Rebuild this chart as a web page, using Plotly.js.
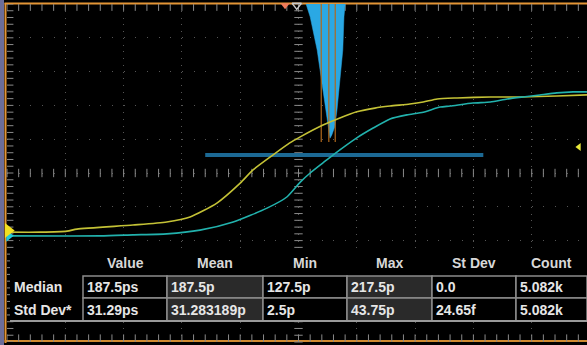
<!DOCTYPE html>
<html>
<head>
<meta charset="utf-8">
<script src="https://cdn.plot.ly/plotly-3.0.1.min.js"></script>
<style>
  html, body { margin: 0; padding: 0; background: #000; }
  #chart { width: 587px; height: 345px; }
</style>
</head>
<body>
<div id="chart"></div>
<script>
// ---- Data (screen divisions: x 0..10, y 0..10) ----
const yellowX = [0, 0.57, 1.03, 1.2, 2.16, 2.74, 3.14, 3.6, 4.0, 4.22, 4.56, 4.85, 5.03, 5.42, 5.71, 6.0, 6.31, 6.57, 6.91, 7.14, 7.38, 7.72, 8.29, 8.8, 9.43, 9.95];
const yellowY = [3.25, 3.25, 3.28, 3.34, 3.46, 3.55, 3.70, 4.11, 4.70, 5.09, 5.53, 5.89, 6.07, 6.42, 6.63, 6.81, 6.92, 6.98, 7.04, 7.10, 7.19, 7.22, 7.25, 7.25, 7.28, 7.31];

const tealX = [0, 1.6, 2.16, 2.74, 3.31, 3.88, 4.46, 4.80, 5.03, 5.20, 5.42, 5.59, 6.0, 6.28, 6.57, 6.86, 7.14, 7.43, 7.60, 7.99, 8.29, 8.58, 8.85, 9.14, 9.43, 9.71, 9.95];
const tealY = [3.14, 3.14, 3.17, 3.20, 3.31, 3.55, 3.96, 4.29, 4.73, 5.0, 5.30, 5.53, 6.04, 6.33, 6.60, 6.72, 6.80, 6.95, 6.98, 7.07, 7.10, 7.19, 7.25, 7.31, 7.37, 7.40, 7.40];

// histogram outline (hanging from top of screen)
const histX = [5.13, 5.20, 5.32, 5.40, 5.47, 5.51, 5.54, 5.57, 5.62, 5.66, 5.71, 5.76, 5.78, 5.80];
const histY = [10.0, 9.62, 8.64, 7.66, 6.86, 6.36, 6.03, 6.12, 6.36, 6.86, 7.66, 8.64, 9.62, 10.0];

// cursor lines
const cursorX = [5.39, 5.52, 5.63];
const cursorTop = 10.0;
const cursorBottom = 5.92;

// measurement zone bar
const zoneX = [3.40, 8.17];
const zoneY = [5.53, 5.53];

// markers
const ch1RefX = 0.02, ch1RefY = 3.30;
const ch2RefX = 0.03, ch2RefY = 3.14;
const trigLevelY = 5.77, trigLevelX = 9.81;
const trigPosX = 4.77, centerMarkX = 4.97;

// table
const colHeaders = ['Value', 'Mean', 'Min', 'Max', 'St Dev', 'Count'];
const rowLabels = ['Median', 'Std Dev*'];
const medianVals = ['187.5ps', '187.5p', '127.5p', '217.5p', '0.0', '5.082k'];
const stdDevVals = ['31.29ps', '31.283189p', '2.5p', '43.75p', '24.65f', '5.082k'];

// ---- Layout geometry (pixels) ----
const W = 587, H = 345;
const L = 7, T = 4, B = 3;
const plotW = W - L, plotH = H - T - B;
const pxPerDivX = 58.3, pxPerDivY = plotH / 10;
const px2paperX = px => (px - L) / plotW;
const py2paperY = py => (H - B - py) / plotH;

const colEdges = [83, 167, 263, 347, 432, 516, 587];
const rowEdges = [276, 298, 321];
const greyCols = [1, 3];

const shapes = [];
const annotations = [];

// left strip + orange frame
shapes.push({type: 'rect', xref: 'paper', yref: 'paper', x0: px2paperX(0), x1: px2paperX(4), y0: py2paperY(345), y1: py2paperY(0), fillcolor: '#6b6d9a', line: {width: 0}, layer: 'below'});
shapes.push({type: 'line', xref: 'paper', yref: 'paper', x0: px2paperX(5.5), x1: px2paperX(5.5), y0: py2paperY(343), y1: py2paperY(3), line: {color: '#e39536', width: 2}, layer: 'below'});
shapes.push({type: 'line', xref: 'paper', yref: 'paper', x0: px2paperX(4.5), x1: px2paperX(587), y0: py2paperY(3.5), y1: py2paperY(3.5), line: {color: '#e39536', width: 2}, layer: 'below'});
shapes.push({type: 'line', xref: 'paper', yref: 'paper', x0: px2paperX(4.5), x1: px2paperX(587), y0: py2paperY(341), y1: py2paperY(341), line: {color: '#d08a30', width: 2}, layer: 'below'});

// table background
shapes.push({type: 'rect', xref: 'paper', yref: 'paper', x0: px2paperX(10), x1: px2paperX(590), y0: py2paperY(322), y1: py2paperY(248), fillcolor: '#000', line: {width: 0}, layer: 'above'});
// cells
for (let r = 0; r < 2; r++) {
  for (let c = 0; c < 6; c++) {
    shapes.push({type: 'rect', xref: 'paper', yref: 'paper',
      x0: px2paperX(colEdges[c]), x1: px2paperX(colEdges[c + 1]),
      y0: py2paperY(rowEdges[r + 1]), y1: py2paperY(rowEdges[r]),
      fillcolor: greyCols.includes(c) ? '#2a2a2a' : '#000',
      line: {color: '#8c8c8c', width: 1.5}, layer: 'above'});
  }
}
shapes.push({type: 'line', xref: 'paper', yref: 'paper', x0: px2paperX(10), x1: px2paperX(590), y0: py2paperY(321), y1: py2paperY(321), line: {color: '#9a9a9a', width: 2}, layer: 'above'});

const fnt = {family: 'Liberation Sans, Arial, sans-serif', size: 14, color: '#e6e6e6'};
colHeaders.forEach((h, c) => {
  annotations.push({xref: 'paper', yref: 'paper', x: px2paperX((colEdges[c] + colEdges[c + 1]) / 2), y: py2paperY(263),
    text: '<b>' + h + '</b>', showarrow: false, xanchor: 'center', yanchor: 'middle', font: Object.assign({}, fnt, {color: '#d8d8d8'})});
});
const rowsVals = [medianVals, stdDevVals];
const rowCenters = [287, 309.5];
rowLabels.forEach((lab, r) => {
  annotations.push({xref: 'paper', yref: 'paper', x: px2paperX(12), y: py2paperY(rowCenters[r]),
    text: '<b>' + lab + '</b>', showarrow: false, xanchor: 'left', yanchor: 'middle', font: fnt});
  rowsVals[r].forEach((v, c) => {
    annotations.push({xref: 'paper', yref: 'paper', x: px2paperX(colEdges[c] + 2), y: py2paperY(rowCenters[r]),
      text: '<b>' + v + '</b>', showarrow: false, xanchor: 'left', yanchor: 'middle', font: fnt});
  });
});

// graticule minor ticks (5 per division)
const tickStep = 0.2;
const hTicks = [];
for (let i = 0; i <= 50; i++) hTicks.push(+(i * tickStep).toFixed(2));
const tickColor = '#8a8a8a';
const traces = [];
traces.push({x: hTicks, y: hTicks.map(() => 5), mode: 'markers', marker: {symbol: 'line-ns', size: 6, line: {color: tickColor, width: 1}}, hoverinfo: 'skip', cliponaxis: false});
traces.push({x: hTicks.map(() => 5), y: hTicks, mode: 'markers', marker: {symbol: 'line-ew', size: 6, line: {color: tickColor, width: 1}}, hoverinfo: 'skip', cliponaxis: false});
traces.push({x: hTicks.map(() => 0.05), y: hTicks, mode: 'markers', marker: {symbol: 'line-ew', size: 5, line: {color: tickColor, width: 1}}, hoverinfo: 'skip'});
traces.push({x: hTicks, y: hTicks.map(() => 0.1), mode: 'markers', marker: {symbol: 'line-ns', size: 6, line: {color: tickColor, width: 1}}, hoverinfo: 'skip'});
traces.push({x: hTicks, y: hTicks.map(() => 9.9), mode: 'markers', marker: {symbol: 'line-ns', size: 5, line: {color: tickColor, width: 1}}, hoverinfo: 'skip'});

// histogram
traces.push({x: histX, y: histY, mode: 'lines', fill: 'toself', fillcolor: '#2aa8e4', line: {color: '#2aa8e4', width: 0.5}, hoverinfo: 'skip'});
// cursors
cursorX.forEach(cx => traces.push({x: [cx, cx], y: [cursorTop, cursorBottom], mode: 'lines', line: {color: '#b0681c', width: 1.2}, hoverinfo: 'skip'}));
// zone bar
traces.push({x: zoneX, y: zoneY, mode: 'lines', line: {color: '#1c6994', width: 4}, hoverinfo: 'skip'});
// waveforms
traces.push({x: yellowX, y: yellowY, mode: 'lines', line: {color: '#c4c236', width: 1.6, shape: 'spline', smoothing: 0.6}, hoverinfo: 'skip'});
traces.push({x: tealX, y: tealY, mode: 'lines', line: {color: '#22b2ad', width: 1.6, shape: 'spline', smoothing: 0.6}, hoverinfo: 'skip'});
// markers
traces.push({x: [ch2RefX], y: [ch2RefY], mode: 'markers', marker: {symbol: 'triangle-right', size: 10, color: '#22c8d8'}, cliponaxis: false, hoverinfo: 'skip'});
traces.push({x: [ch1RefX], y: [ch1RefY], mode: 'markers', marker: {symbol: 'triangle-right', size: 13, color: '#f2e020'}, cliponaxis: false, hoverinfo: 'skip'});
traces.push({x: [trigLevelX], y: [trigLevelY], mode: 'markers', marker: {symbol: 'triangle-left', size: 7, color: '#e8e83a'}, cliponaxis: false, hoverinfo: 'skip'});
traces.push({x: [trigPosX], y: [9.96], mode: 'markers', marker: {symbol: 'triangle-down', size: 8, color: '#f07a5a'}, cliponaxis: false, hoverinfo: 'skip'});
traces.push({x: [centerMarkX], y: [9.96], mode: 'markers', marker: {symbol: 'triangle-down-open', size: 8, color: '#c8c8c8', line: {width: 1.5}}, cliponaxis: false, hoverinfo: 'skip'});

const layout = {
  width: W, height: H,
  margin: {l: L, r: 0, t: T, b: B, pad: 0},
  paper_bgcolor: '#000', plot_bgcolor: '#000',
  showlegend: false,
  xaxis: {range: [0, plotW / pxPerDivX], dtick: 1, tick0: 0, showgrid: true, gridcolor: '#555', gridwidth: 1,
          zeroline: false, showticklabels: false, ticks: '', showline: false, fixedrange: true},
  yaxis: {range: [0, 10], dtick: 1, tick0: 0, showgrid: true, gridcolor: '#555', gridwidth: 1,
          zeroline: false, showticklabels: false, ticks: '', showline: false, fixedrange: true},
  shapes: shapes,
  annotations: annotations
};
// vertical gridlines get dots every 0.2 div in y, horizontal every 0.2 div in x
layout.xaxis.griddash = '1px,' + (pxPerDivY / 5 - 1).toFixed(2) + 'px';
layout.yaxis.griddash = '1px,' + (pxPerDivX / 5 - 1).toFixed(2) + 'px';

Plotly.newPlot('chart', traces, layout, {displayModeBar: false, staticPlot: true});
</script>
</body>
</html>
